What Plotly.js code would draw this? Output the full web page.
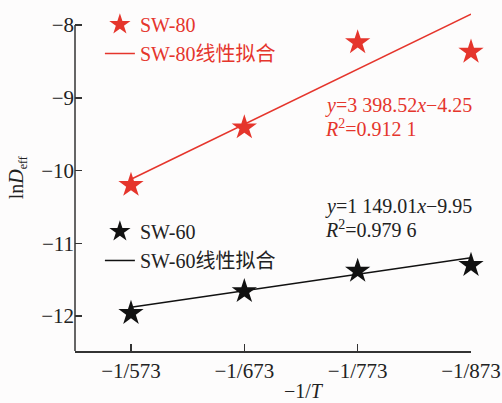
<!DOCTYPE html>
<html>
<head>
<meta charset="utf-8">
<script src="https://cdn.plot.ly/plotly-3.0.1.min.js"></script>
<style>html,body{margin:0;padding:0;background:#fdfcfc;}#chart{width:502px;height:403px;}</style>
</head>
<body>
<div id="chart"></div>
<script>
// Category positions and tick labels
const xPos = [1, 2, 3, 4];
const xTickText = ['−1/573', '−1/673', '−1/773', '−1/873'];
const yTicks = [-8, -9, -10, -11, -12];

// Measured ln(Deff) values
const sw80 = [-10.20, -9.41, -8.24, -8.37];
const sw60 = [-11.96, -11.66, -11.38, -11.30];

// Fit lines (end points)
const fitX = [1, 4];
const sw80Fit = [-10.12, -7.85];
const sw60Fit = [-11.88, -11.20];

const RED = '#e5352c';
const BLACK = '#111111';
const FONT = '"Liberation Serif", "Times New Roman", "Noto Sans CJK SC", serif';

const traces = [
  {x: xPos, y: sw80, mode: 'markers', name: 'SW-80', legend: 'legend',
   marker: {symbol: 'star', size: 19, color: RED}, cliponaxis: false},
  {x: fitX, y: sw80Fit, mode: 'lines', name: 'SW-80线性拟合', legend: 'legend',
   line: {color: RED, width: 1.5}},
  {x: xPos, y: sw60, mode: 'markers', name: 'SW-60', legend: 'legend2',
   marker: {symbol: 'star', size: 19, color: BLACK}, cliponaxis: false},
  {x: fitX, y: sw60Fit, mode: 'lines', name: 'SW-60线性拟合', legend: 'legend2',
   line: {color: BLACK, width: 1.5}}
];

const yMin = -12.48, yMax = -7.794;

const layout = {
  width: 502, height: 403,
  paper_bgcolor: '#fdfcfc', plot_bgcolor: 'rgba(0,0,0,0)',
  margin: {l: 75, r: 31, t: 10, b: 52, autoexpand: false},
  font: {family: FONT, size: 20, color: '#222'},
  showlegend: true,
  xaxis: {
    range: [0.506, 4], tickmode: 'array', tickvals: xPos, ticktext: xTickText,
    showline: true, linecolor: '#333', linewidth: 1.5, showgrid: false, zeroline: false,
    ticks: 'inside', ticklen: 7, tickwidth: 1.5, tickcolor: '#333', tickangle: 0, automargin: false,
    tickfont: {family: FONT, size: 21, color: '#222'}
  },
  yaxis: {
    range: [yMin, yMax], tickmode: 'array', tickvals: yTicks,
    showline: false, showgrid: false, zeroline: false, automargin: false,
    ticks: 'inside', ticklen: 7, tickwidth: 1.5, tickcolor: '#333',
    tickfont: {family: FONT, size: 21, color: '#222'}
  },
  shapes: [
    {type: 'line', xref: 'paper', yref: 'y', x0: 0, x1: 0, y0: yMin, y1: -8,
     line: {color: '#333', width: 1.5}}
  ],
  legend: {
    xref: 'container', yref: 'container',
    x: 0.199, y: 0.9876, xanchor: 'left', yanchor: 'top', bgcolor: 'rgba(0,0,0,0)',
    font: {family: FONT, size: 20, color: RED}, tracegroupgap: 0
  },
  legend2: {
    xref: 'container', yref: 'container',
    x: 0.199, y: 0.474, xanchor: 'left', yanchor: 'top', bgcolor: 'rgba(0,0,0,0)',
    font: {family: FONT, size: 20, color: '#222'}, tracegroupgap: 0
  },
  annotations: [
    {xref: 'paper', yref: 'paper', x: 0.626, y: 0.721, xanchor: 'left', yanchor: 'middle', showarrow: false,
     text: '<i>y</i>=3 398.52<i>x</i>−4.25', font: {family: FONT, size: 20, color: RED}},
    {xref: 'paper', yref: 'paper', x: 0.626, y: 0.654, xanchor: 'left', yanchor: 'middle', showarrow: false,
     text: '<i>R</i><sup>2</sup>=0.912 1', font: {family: FONT, size: 20, color: RED}},
    {xref: 'paper', yref: 'paper', x: 0.626, y: 0.425, xanchor: 'left', yanchor: 'middle', showarrow: false,
     text: '<i>y</i>=1 149.01<i>x</i>−9.95', font: {family: FONT, size: 20, color: '#222'}},
    {xref: 'paper', yref: 'paper', x: 0.626, y: 0.358, xanchor: 'left', yanchor: 'middle', showarrow: false,
     text: '<i>R</i><sup>2</sup>=0.979 6', font: {family: FONT, size: 20, color: '#222'}},
    {xref: 'paper', yref: 'paper', x: -0.146, y: 0.507, xanchor: 'center', yanchor: 'middle', showarrow: false,
     textangle: -90, text: 'ln<i>D</i><sub><span style="font-size:12px">eff</span></sub>',
     font: {family: FONT, size: 20, color: '#222'}},
    {xref: 'paper', yref: 'paper', x: 0.578, y: -0.117, xanchor: 'center', yanchor: 'middle', showarrow: false,
     text: '−1/<i>T</i>', font: {family: FONT, size: 20, color: '#222'}}
  ]
};

Plotly.newPlot('chart', traces, layout, {displayModeBar: false, staticPlot: true});
</script>
</body>
</html>
